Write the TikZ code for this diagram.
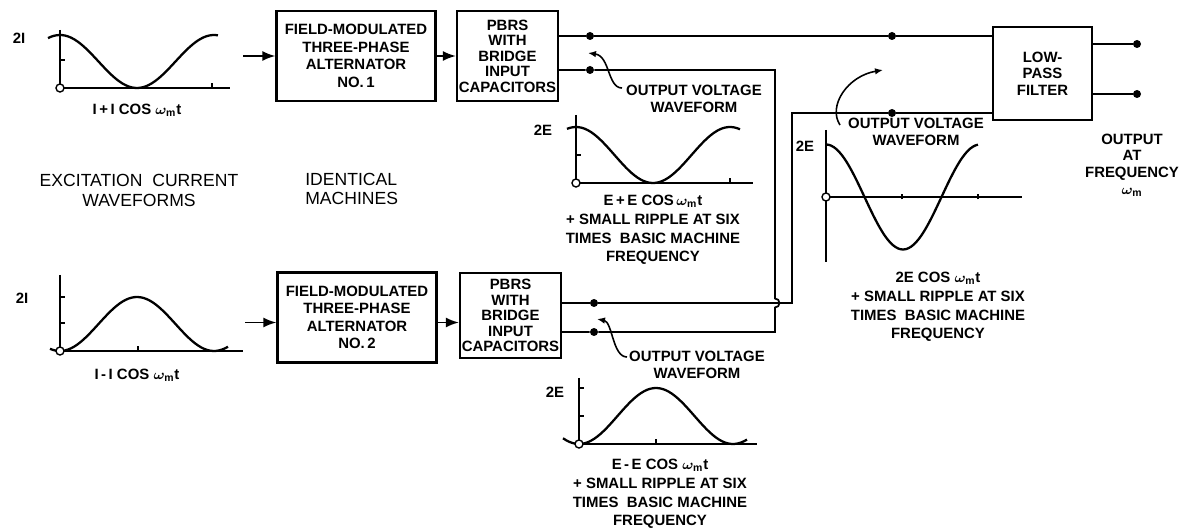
\documentclass[tikz,border=0pt]{standalone}
\usepackage{fontspec}
\setmainfont{Liberation Sans}
\usepackage{tikz}
\usetikzlibrary{arrows.meta,positioning,calc}

\newcommand{\wm}{$\omega_{\mathrm{m}}$}

\begin{document}
\begin{tikzpicture}[
    block/.style={rectangle, draw, line width=1.3pt, align=center, inner sep=1pt, font=\fontsize{8.5}{10}\selectfont\bfseries},
    alt/.style={block, minimum width=3.18cm, minimum height=1.8cm},
    pbrs/.style={block, minimum width=2.02cm, minimum height=1.8cm, font=\fontsize{8.5}{8.8}\selectfont\bfseries},
    arrow/.style={-{Latex[length=2.6mm,width=2mm]}, line width=1pt},
    wire/.style={line width=1pt},
    dot/.style={circle, fill, inner sep=0pt, minimum size=1.6mm},
    zero/.style={circle, draw, fill=white, line width=0.8pt, inner sep=0pt, minimum size=1.6mm},
    axis/.style={line width=0.9pt},
    wave/.style={line width=1.3pt, smooth, samples=60},
    note/.style={align=center, inner sep=0pt, font=\fontsize{8.5}{10.6}\selectfont\bfseries\boldmath},
    remark/.style={note, font=\fontsize{8.5}{9.6}\selectfont\bfseries\boldmath},
    bigtext/.style={inner sep=0pt, font=\fontsize{10}{11}\selectfont},
    pointer/.style={-{Latex[length=1.6mm,width=1.3mm]}, line width=0.9pt}
]
    \useasboundingbox (0,0) rectangle (23.64,10.62);

    % machines
    \node[alt] (alt1) at (7.12,9.5) {FIELD-MODULATED\\THREE-PHASE\\ALTERNATOR\\NO.\,1};
    \node[pbrs] (pbrs1) at (10.15,9.5) {PBRS\\WITH\\BRIDGE\\INPUT\\CAPACITORS};
    \node[alt] (alt2) at (7.14,4.27) {FIELD-MODULATED\\THREE-PHASE\\ALTERNATOR\\NO.\,2};
    \node[pbrs, minimum height=1.7cm] (pbrs2) at (10.21,4.31) {PBRS\\WITH\\BRIDGE\\INPUT\\CAPACITORS};
    \node[block, minimum width=1.98cm, minimum height=1.86cm, font=\fontsize{8.5}{9.4}\selectfont\bfseries] (lpf) at (20.85,9.15) {LOW-\\PASS\\FILTER};

    \coordinate (in1) at (4.86,9.5);
    \coordinate (in2) at (4.9,4.17);
    \draw[arrow] (in1) -- (alt1);
    \draw[arrow] (alt1) -- (pbrs1);
    \draw[arrow] (in2) -- (in2 -| alt2.west);
    \draw[arrow] (alt2.east |- in2) -- (pbrs2.west |- in2);

    % output wiring
    \node[dot] (d1) at (11.8,9.9) {};
    \node[dot] (d2) at (11.8,9.22) {};
    \node[dot] (d3) at (17.84,9.9) {};
    \node[dot] (d4) at (17.84,8.36) {};
    \node[dot] (d5) at (11.88,4.56) {};
    \node[dot] (d6) at (11.88,3.98) {};
    \node[dot] (d7) at (22.74,9.74) {};
    \node[dot] (d8) at (22.74,8.74) {};
    \coordinate (c1) at (15.5,9.22);
    \coordinate (c2) at (15.5,3.98);
    \coordinate (c3) at (15.84,4.56);
    \coordinate (c4) at (15.84,8.36);
    \coordinate (hop) at (15.5,4.56);

    \draw[wire] (pbrs1.east |- d1) -- (d1) -- (d3) -- (lpf.west |- d3);
    \draw[wire] (pbrs1.east |- d2) -- (d2) -- (c1) -- ($(hop)+(0,0.09)$) arc[start angle=90, end angle=-90, radius=0.09] -- (c2) -- (d6) -- (pbrs2.east |- d6);
    \draw[wire] (pbrs2.east |- d5) -- (d5) -- (c3) -- (c4) -- (d4) -- (lpf.west |- d4);
    \draw[wire] (lpf.east |- d7) -- (d7);
    \draw[wire] (lpf.east |- d8) -- (d8);

    % remarks
    \node[remark] (rem1) at (13.88,8.65) {OUTPUT VOLTAGE\\WAVEFORM};
    \node[remark] (rem2) at (13.94,3.32) {OUTPUT VOLTAGE\\WAVEFORM};
    \node[remark] (rem3) at (18.32,7.99) {OUTPUT VOLTAGE\\WAVEFORM};
    \coordinate (tail1) at (12.44,8.86);
    \coordinate (head1) at (11.76,9.56);
    \coordinate (tail2) at (12.54,3.48);
    \coordinate (head2) at (11.94,4.24);
    \coordinate (tail3) at (16.8,8.12);
    \coordinate (head3) at (17.66,9.22);
    \draw[pointer] (tail1) .. controls (12.15,8.86) and (12.2,9.5) .. (head1);
    \draw[pointer] (tail2) .. controls (12.25,3.48) and (12.25,4.18) .. (head2);
    \draw[pointer] (tail3) .. controls (16.55,8.5) and (16.95,9.1) .. (head3);

    \node[bigtext, align=center] (exc) at (2.78,6.81) {EXCITATION~~CURRENT\\WAVEFORMS};
    \node[bigtext, align=left, anchor=west] (ident) at (6.1,6.84) {IDENTICAL\\MACHINES};
    \node[note, font=\fontsize{8.5}{9.5}\selectfont\bfseries\boldmath] (out) at (22.64,7.32) {OUTPUT\\AT\\FREQUENCY\\\wm};

    % excitation waveforms
    \begin{scope}[shift={(1.2,8.86)}]
        \draw[axis] (0,1.16) -- (0,0) -- (3.4,0);
        \draw[axis] (0,0.56) -- ++(0.1,0) (3.04,0) -- ++(0,0.1);
        \draw[wave, domain=-0.24:3.16] plot (\x, {0.53*(1+cos(\x*360/3.08))});
        \node[zero] (o1) at (0,0) {};
        \node[note] (lvl1) at (-0.82,1.0) {2I};
        \node[note] (eq1) at (1.54,-0.44) {I\,+\,I COS \wm t};
    \end{scope}
    \begin{scope}[shift={(1.2,3.6)}]
        \draw[axis] (0,1.52) -- (0,0) -- (3.66,0);
        \draw[axis] (0,1.08) -- ++(0.1,0) (0,0.56) -- ++(0.1,0) (1.56,0) -- ++(0,0.1);
        \draw[wave, domain=-0.2:3.36] plot (\x, {0.54*(1-cos(\x*360/3.08))});
        \node[zero] (o2) at (0,0) {};
        \node[note] (lvl2) at (-0.76,1.06) {2I};
        \node[note] (eq2) at (1.54,-0.48) {I\,-\,I COS \wm t};
    \end{scope}

    % rectified waveforms
    \begin{scope}[shift={(11.52,6.96)}]
        \draw[axis] (0,1.36) -- (0,0) -- (3.54,0);
        \draw[axis] (0,0.56) -- ++(0.1,0) (3.08,0) -- ++(0,0.1);
        \draw[wave, domain=-0.18:3.28] plot (\x, {0.56*(1+cos(\x*360/3.08))});
        \node[zero] (o3) at (0,0) {};
        \node[note] (lvl3) at (-0.66,1.06) {2E};
        \node[note] (eq3) at (1.54,-0.94) {E\,+\,E COS\,\wm t\\+ SMALL RIPPLE AT SIX\\TIMES~ BASIC MACHINE\\FREQUENCY};
    \end{scope}
    \begin{scope}[shift={(11.58,1.74)}]
        \draw[axis] (0,1.32) -- (0,0) -- (3.56,0);
        \draw[axis] (0,1.12) -- ++(0.1,0) (0,0.56) -- ++(0.1,0) (1.54,0) -- ++(0,0.1);
        \draw[wave, domain=-0.32:3.36] plot (\x, {0.56*(1-cos(\x*360/3.08))});
        \node[zero] (o4) at (0,0) {};
        \node[note] (lvl4) at (-0.48,1.04) {2E};
        \node[note] (eq4) at (1.62,-1.0) {E\,-\,E COS \wm t\\+ SMALL RIPPLE AT SIX\\TIMES~ BASIC MACHINE\\FREQUENCY};
    \end{scope}

    % filter input waveform
    \begin{scope}[shift={(16.52,6.68)}]
        \draw[axis] (0,1.34) -- (0,-1.3);
        \draw[axis] (0,0) -- (3.92,0);
        \draw[axis] (1.52,-0.05) -- ++(0,0.1) (3.04,-0.05) -- ++(0,0.1);
        \draw[wave, domain=0:3.04] plot (\x, {1.05*cos(\x*360/3.08)});
        \node[zero] (o5) at (0,0) {};
        \node[note] (lvl5) at (-0.42,1.02) {2E};
        \node[note] (eq5) at (2.24,-2.2) {2E COS \wm t\\+ SMALL RIPPLE AT SIX\\TIMES~ BASIC MACHINE\\FREQUENCY};
    \end{scope}
\end{tikzpicture}
\end{document}
